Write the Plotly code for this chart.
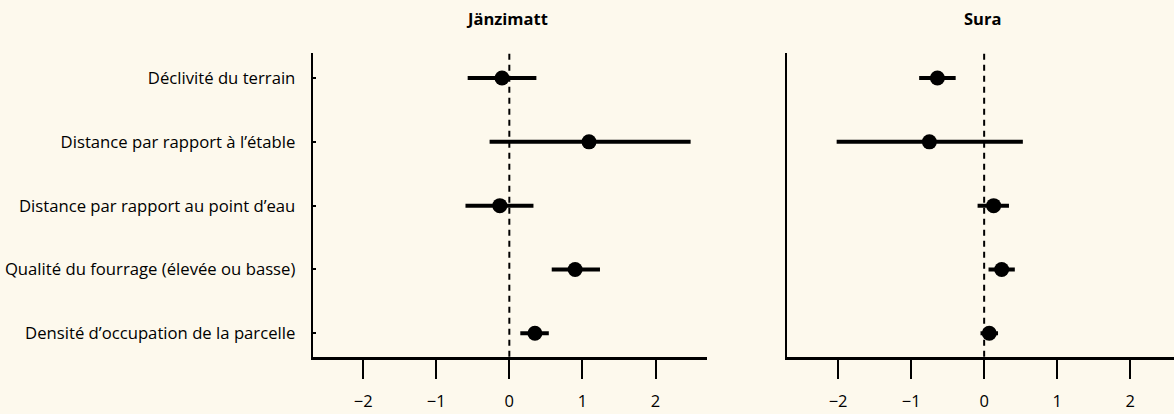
import plotly.graph_objects as go

categories = [
    "Déclivité du terrain",
    "Distance par rapport à l’étable",
    "Distance par rapport au point d’eau",
    "Qualité du fourrage (élevée ou basse)",
    "Densité d’occupation de la parcelle",
]
panel_titles = ["Jänzimatt", "Sura"]

janz_est = [-0.10, 1.09, -0.13, 0.90, 0.35]
janz_lo = [-0.57, -0.27, -0.60, 0.58, 0.15]
janz_hi = [0.37, 2.48, 0.33, 1.24, 0.54]

sura_est = [-0.64, -0.75, 0.13, 0.24, 0.07]
sura_lo = [-0.89, -2.02, -0.09, 0.06, -0.05]
sura_hi = [-0.39, 0.53, 0.34, 0.42, 0.19]

x_ticks = [-2, -1, 0, 1, 2]

BG = "#fdf9ed"
FONT = "Open Sans"
TXT = "#000"
W, H = 1174, 414

fig = go.Figure()

def add_panel(est, lo, hi, xa, ya):
    fig.add_trace(go.Scatter(
        x=est, y=categories, mode="markers",
        marker=dict(size=15, color="black"),
        error_x=dict(type="data", symmetric=False,
                     array=[h - e for h, e in zip(hi, est)],
                     arrayminus=[e - l for e, l in zip(est, lo)],
                     thickness=4, width=0, color="black"),
        xaxis=xa, yaxis=ya, showlegend=False, hoverinfo="skip",
    ))

add_panel(janz_est, janz_lo, janz_hi, "x", "y")
add_panel(sura_est, sura_lo, sura_hi, "x2", "y2")

y_dom = [(H - 356.7) / H, (H - 53) / H]
cat_order = list(reversed(categories))
y_range = [-0.367, 4.392]

xcommon = dict(
    tickvals=x_ticks, ticks="outside", ticklen=20, tickwidth=2, tickcolor="black",
    showline=True, linewidth=2.5, linecolor="black", showgrid=False, zeroline=False,
    tickfont=dict(family=FONT, size=16.5, color=TXT), ticklabelstandoff=8,
    fixedrange=True,
)
fig.update_layout(
    width=W, height=H,
    paper_bgcolor=BG, plot_bgcolor=BG,
    margin=dict(l=0, r=0, t=0, b=0),
    font=dict(family=FONT, color=TXT),
    xaxis=dict(domain=[312.7 / W, 706.7 / W], range=[-2.69, 2.70], anchor="y", **xcommon),
    xaxis2=dict(domain=[787 / W, 1.0], range=[-2.70, 2.60], anchor="y2", **xcommon),
    yaxis=dict(domain=y_dom, type="category", categoryorder="array", categoryarray=cat_order,
               range=y_range, showline=True, linewidth=2, linecolor="black",
               ticks="inside", ticklen=3, tickwidth=1.5, tickcolor="black",
               showgrid=False, zeroline=False, anchor="x",
               tickfont=dict(family=FONT, size=16.7, color=TXT), ticklabelstandoff=12),
    yaxis2=dict(domain=y_dom, type="category", categoryorder="array", categoryarray=cat_order,
                range=y_range, showline=True, linewidth=2, linecolor="black",
                showticklabels=False, ticks="", showgrid=False, zeroline=False, anchor="x2"),
    shapes=[
        dict(type="line", xref="x", yref="y domain", x0=0, x1=0, y0=0, y1=1,
             line=dict(color="black", width=2, dash="6px,5px"), layer="below"),
        dict(type="line", xref="x2", yref="y2 domain", x0=0, x1=0, y0=0, y1=1,
             line=dict(color="black", width=2, dash="6px,5px"), layer="below"),
    ],
    annotations=[
        dict(text="<b>%s</b>" % panel_titles[0], xref="paper", yref="paper",
             x=507 / W, y=(H - 19) / H, showarrow=False, xanchor="center", yanchor="middle",
             font=dict(family=FONT, size=16.5, color=TXT)),
        dict(text="<b>%s</b>" % panel_titles[1], xref="paper", yref="paper",
             x=982 / W, y=(H - 19) / H, showarrow=False, xanchor="center", yanchor="middle",
             font=dict(family=FONT, size=16.5, color=TXT)),
    ],
)

fig.write_html(
    "out.html",
    config={"displayModeBar": False},
    post_script="document.body.style.margin='0';document.body.style.overflow='hidden';"
                "document.documentElement.style.overflow='hidden';",
)
